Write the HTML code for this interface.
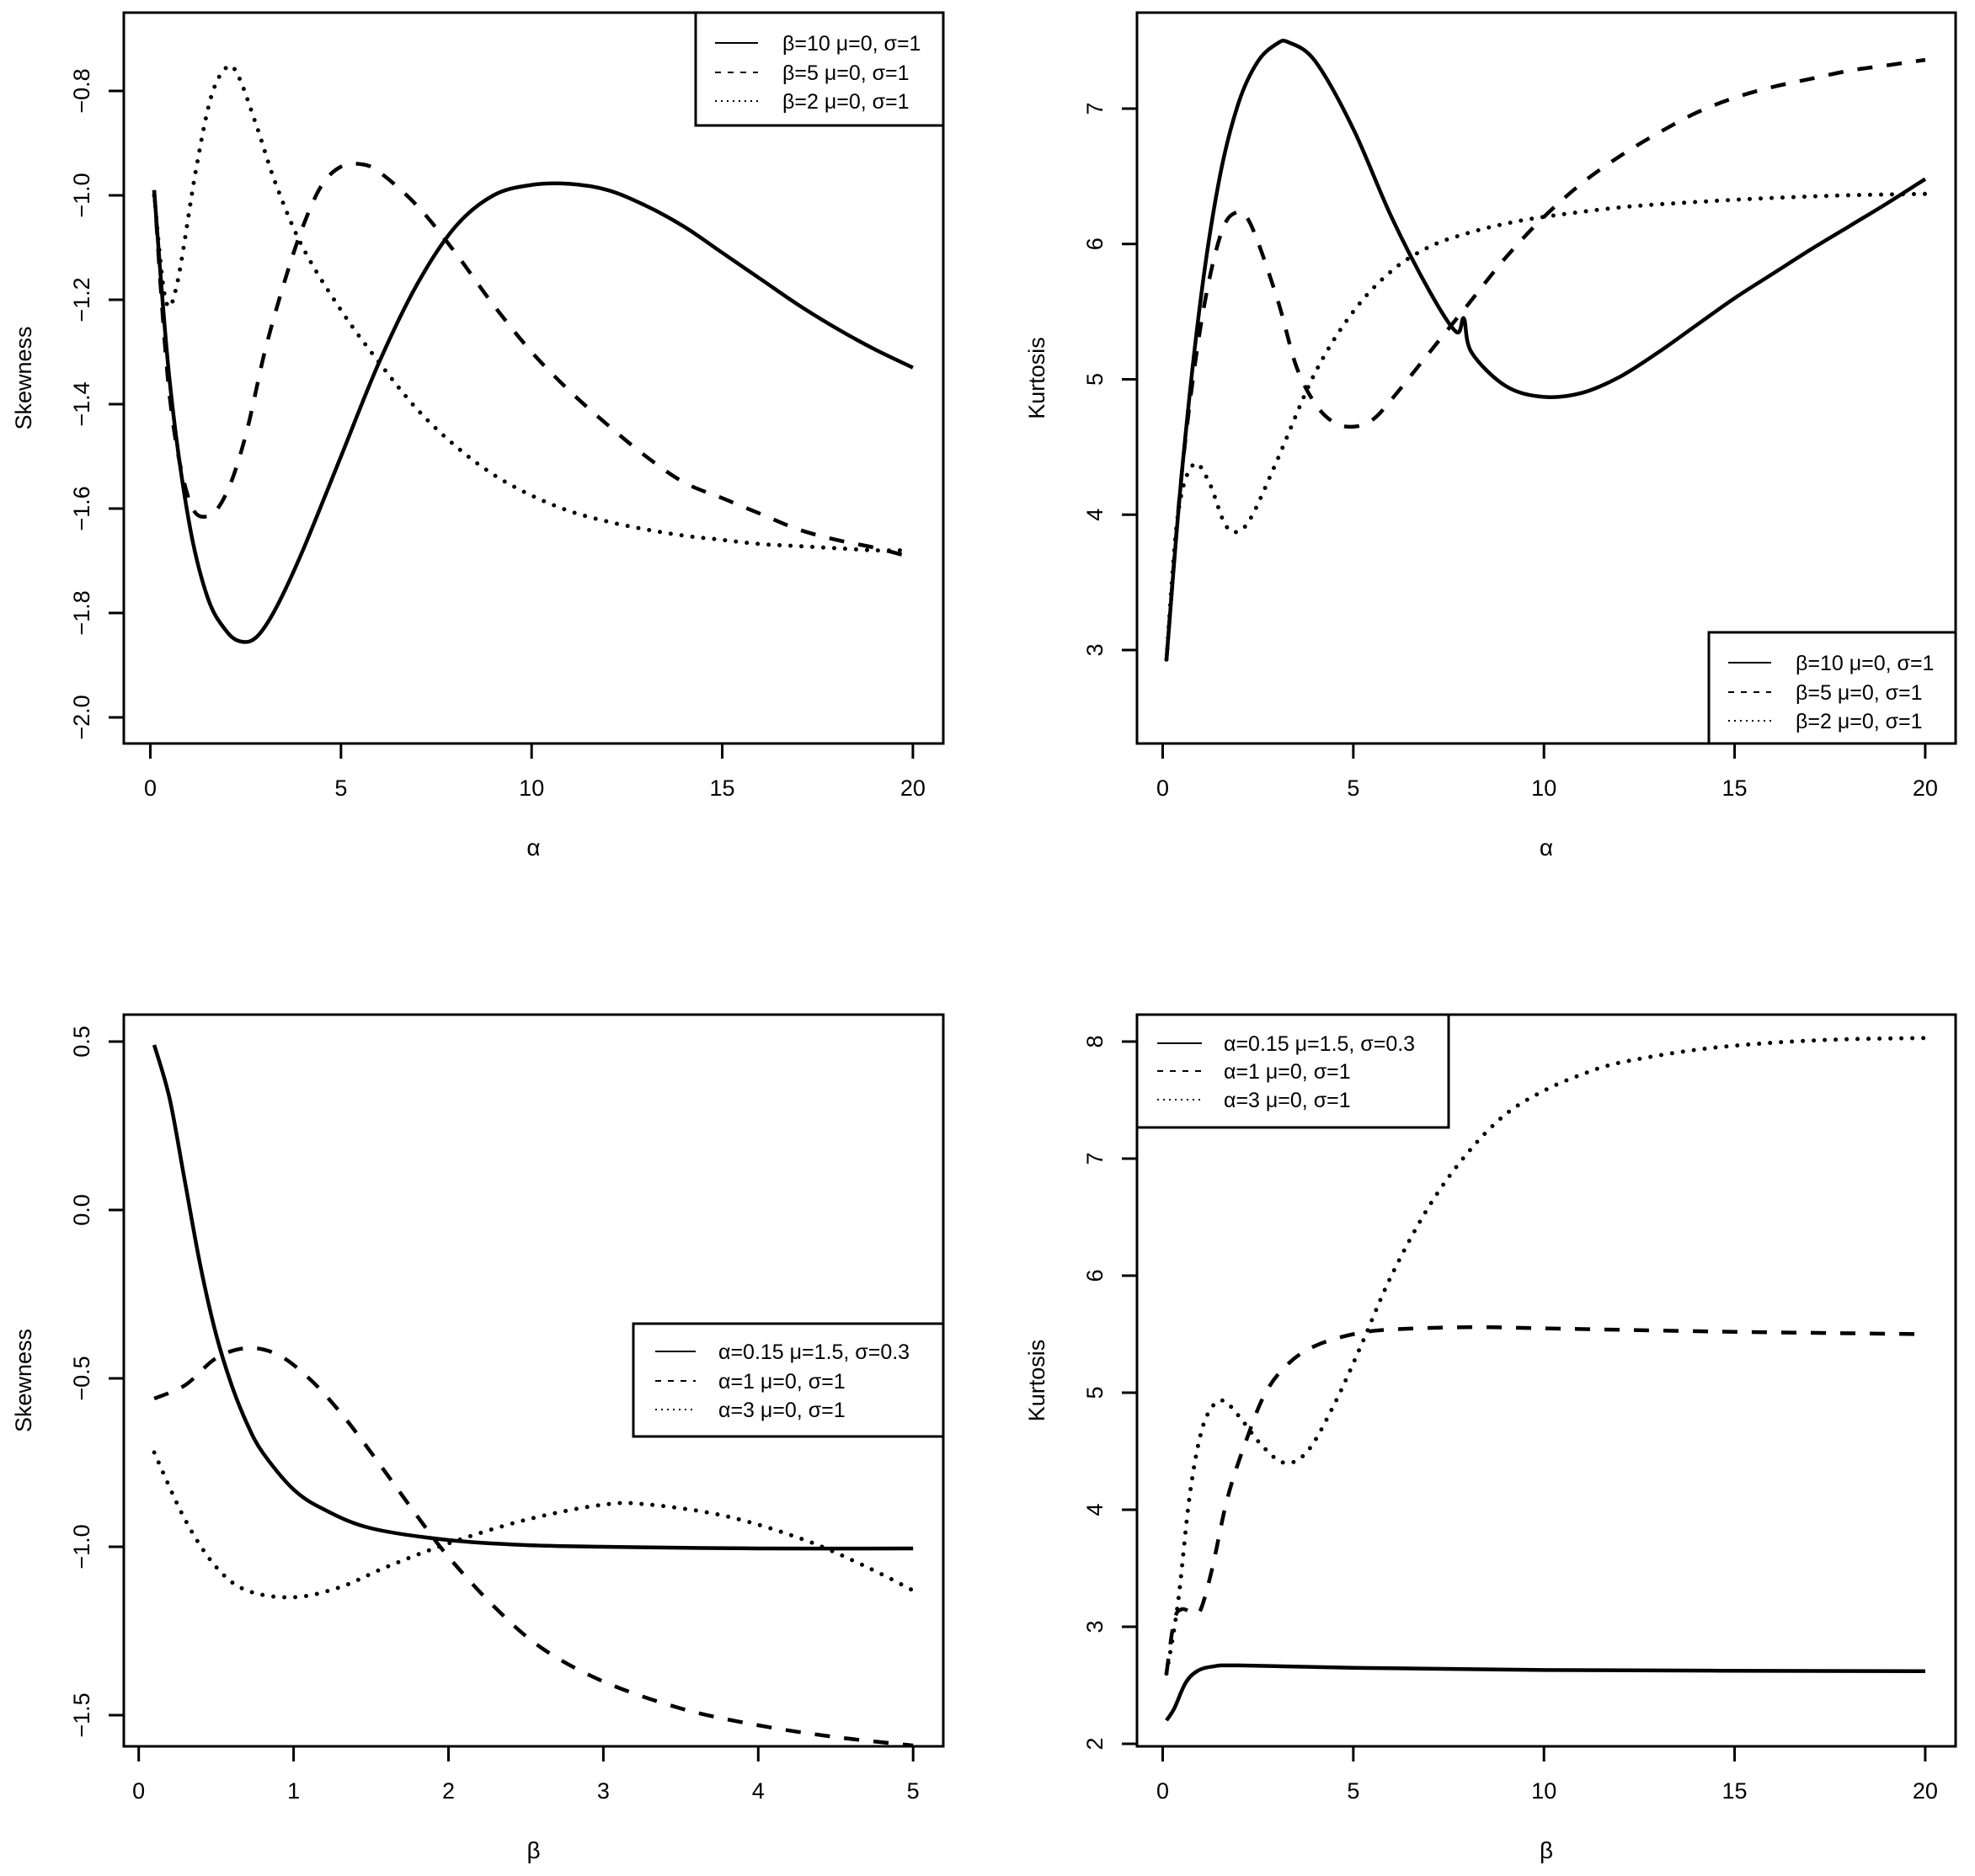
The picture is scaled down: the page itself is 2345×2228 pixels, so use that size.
<!DOCTYPE html>
<html><head><meta charset="utf-8"><style>
html,body{margin:0;padding:0;background:#fff}
svg{display:block}
text{font-family:"Liberation Sans",sans-serif;fill:#000}
</style></head><body>
<svg id="s" xmlns="http://www.w3.org/2000/svg" width="2345" height="2228" viewBox="0 0 2345 2228"></svg>
<script>
const S=document.getElementById('s');
let out='';
function panel(p){
  const {L,R,T,B,x0,xu,y0,yu,xt,yt,xlab,ylab,series,leg}=p;
  const X=v=>x0+v*xu, Y=v=>y0-v*yu;
  out+=`<rect x="${L}" y="${T}" width="${R-L}" height="${B-T}" fill="none" stroke="#000" stroke-width="3"/>`;
  out+=`<line x1="${X(xt[0])}" y1="${B}" x2="${X(xt[xt.length-1])}" y2="${B}" stroke="#000" stroke-width="3"/>`;
  xt.forEach(v=>{const x=X(v);out+=`<line x1="${x}" y1="${B}" x2="${x}" y2="${B+18}" stroke="#000" stroke-width="3"/><text x="${x}" y="${B+62}" font-size="27" text-anchor="middle">${v}</text>`;});
  out+=`<line x1="${L}" y1="${Y(yt[0][0])}" x2="${L}" y2="${Y(yt[yt.length-1][0])}" stroke="#000" stroke-width="3"/>`;
  yt.forEach(([v,l])=>{const y=Y(v);out+=`<line x1="${L-18}" y1="${y}" x2="${L}" y2="${y}" stroke="#000" stroke-width="3"/><text transform="translate(${L-41},${y}) rotate(-90)" font-size="27" text-anchor="middle">${l}</text>`;});
  out+=`<text x="${(L+R)/2}" y="${B+133}" font-size="28" text-anchor="middle">${xlab}</text>`;
  out+=`<text transform="translate(${L-110},${(T+B)/2}) rotate(-90)" font-size="27" text-anchor="middle">${ylab}</text>`;
  series.forEach((pts,i)=>{
    const P=pts.map(([a,b])=>[X(a),Y(b)]);
    let d='M'+P[0][0].toFixed(1)+','+P[0][1].toFixed(1);
    for(let k=0;k<P.length-1;k++){
      const p0=P[Math.max(k-1,0)],p1=P[k],p2=P[k+1],p3=P[Math.min(k+2,P.length-1)];
      const c1=[p1[0]+(p2[0]-p0[0])/6,p1[1]+(p2[1]-p0[1])/6];
      const c2=[p2[0]-(p3[0]-p1[0])/6,p2[1]-(p3[1]-p1[1])/6];
      d+=`C${c1[0].toFixed(1)},${c1[1].toFixed(1)} ${c2[0].toFixed(1)},${c2[1].toFixed(1)} ${p2[0].toFixed(1)},${p2[1].toFixed(1)}`;
    }
    const st=i==0?'':i==1?'stroke-dasharray="18,17"':'stroke-dasharray="0,13" stroke-linecap="round"';
    out+=`<path d="${d}" fill="none" stroke="#000" stroke-width="${i==2?5:4.5}" ${st}/>`;
  });
  const g=leg;
  out+=`<rect x="${g.L}" y="${g.T}" width="${g.R-g.L}" height="${g.B-g.T}" fill="#fff" stroke="#000" stroke-width="3"/>`;
  g.items.forEach((t,i)=>{const y=g.ys[i];
    const st=i==0?'':i==1?'stroke-dasharray="7,8"':'stroke-dasharray="2,5"';
    out+=`<line x1="${g.l1}" y1="${y}" x2="${g.l2}" y2="${y}" stroke="#000" stroke-width="2" ${st}/><text x="${g.tx}" y="${y+9}" font-size="25">${t}</text>`;});
}
const b10=['β=10 μ=0, σ=1','β=5 μ=0, σ=1','β=2 μ=0, σ=1'];
const a3=['α=0.15 μ=1.5, σ=0.3','α=1 μ=0, σ=1','α=3 μ=0, σ=1'];
panel({L:147,R:1120,T:15,B:883,x0:178.5,xu:45.27,y0:108-0.8*620,yu:620,
 xt:[0,5,10,15,20],yt:[[-2,'−2.0'],[-1.8,'−1.8'],[-1.6,'−1.6'],[-1.4,'−1.4'],[-1.2,'−1.2'],[-1.0,'−1.0'],[-0.8,'−0.8']],
 xlab:'α',ylab:'Skewness',
 series:[
 [[0.1,-0.99],[0.5,-1.35],[1,-1.62],[1.5,-1.77],[2,-1.835],[2.4,-1.855],[2.8,-1.845],[3.3,-1.79],[4,-1.68],[5,-1.50],[6,-1.32],[7,-1.17],[8,-1.06],[9,-1.0],[10,-0.98],[11,-0.978],[12,-0.99],[13,-1.02],[14,-1.06],[15,-1.11],[16,-1.16],[17,-1.21],[18,-1.255],[19,-1.295],[20,-1.33]],
 [[0.1,-0.99],[0.5,-1.38],[1,-1.58],[1.5,-1.615],[2,-1.57],[2.5,-1.46],[3,-1.30],[3.5,-1.17],[4,-1.06],[4.5,-0.98],[5,-0.945],[5.5,-0.94],[6,-0.955],[7,-1.02],[8,-1.11],[9,-1.21],[10,-1.30],[11,-1.375],[12,-1.44],[13,-1.50],[14,-1.55],[15,-1.58],[16,-1.61],[17,-1.64],[18,-1.66],[19,-1.675],[19.8,-1.69]],
 [[0.1,-1.0],[0.4,-1.2],[0.7,-1.17],[1.2,-0.95],[1.6,-0.81],[2,-0.755],[2.3,-0.77],[2.8,-0.87],[3.3,-0.98],[4,-1.10],[5,-1.22],[6,-1.32],[7,-1.41],[8,-1.48],[9,-1.535],[10,-1.575],[11,-1.605],[12,-1.625],[13,-1.64],[14,-1.652],[15,-1.66],[16,-1.668],[17,-1.672],[18,-1.676],[19,-1.68],[19.8,-1.68]]],
 leg:{L:826,R:1120,T:15,B:149,l1:849,l2:900,tx:929,ys:[51,86,120],items:b10}});
panel({L:1350,R:2322,T:15,B:883,x0:1380.5,xu:45.27,y0:772+3*160.75,yu:160.75,
 xt:[0,5,10,15,20],yt:[[3,'3'],[4,'4'],[5,'5'],[6,'6'],[7,'7']],
 xlab:'α',ylab:'Kurtosis',
 series:[
 [[0.1,2.93],[0.5,4.3],[1,5.6],[1.5,6.5],[2,7.05],[2.5,7.35],[3,7.48],[3.3,7.49],[4,7.35],[5,6.85],[6,6.2],[7,5.65],[7.7,5.35],[7.9,5.45],[8.1,5.2],[9,4.95],[10,4.87],[11,4.9],[12,5.02],[13,5.2],[14,5.4],[15,5.6],[16,5.78],[17,5.96],[18,6.13],[19,6.3],[20,6.48]],
 [[0.1,2.93],[0.5,4.3],[1,5.4],[1.5,6.05],[1.9,6.23],[2.3,6.15],[3,5.6],[3.5,5.1],[4,4.82],[4.5,4.68],[5,4.65],[5.5,4.7],[6,4.85],[7,5.2],[8,5.55],[9,5.9],[10,6.2],[11,6.45],[12,6.65],[13,6.82],[14,6.97],[15,7.08],[16,7.16],[17,7.22],[18,7.28],[19,7.32],[20,7.36]],
 [[0.1,2.93],[0.4,4.0],[0.8,4.37],[1.2,4.25],[1.6,3.95],[1.9,3.87],[2.3,3.97],[3,4.4],[4,5.05],[5,5.5],[6,5.8],[7,5.98],[8,6.08],[9,6.15],[10,6.2],[12,6.27],[14,6.31],[16,6.34],[18,6.36],[20,6.37]]],
 leg:{L:2029,R:2322,T:751,B:883,l1:2052,l2:2103,tx:2132,ys:[787,822,856],items:b10}});
panel({L:147,R:1120,T:1205,B:2074,x0:164.7,xu:183.9,y0:1437,yu:400,
 xt:[0,1,2,3,4,5],yt:[[-1.5,'−1.5'],[-1.0,'−1.0'],[-0.5,'−0.5'],[0,'0.0'],[0.5,'0.5']],
 xlab:'β',ylab:'Skewness',
 series:[
 [[0.1,0.49],[0.2,0.33],[0.3,0.08],[0.4,-0.17],[0.5,-0.37],[0.6,-0.52],[0.7,-0.635],[0.8,-0.72],[1.0,-0.83],[1.2,-0.89],[1.5,-0.945],[2,-0.98],[2.5,-0.995],[3,-1.0],[4,-1.005],[5,-1.005]],
 [[0.1,-0.56],[0.3,-0.52],[0.5,-0.44],[0.7,-0.41],[0.9,-0.43],[1.1,-0.5],[1.3,-0.6],[1.5,-0.72],[1.8,-0.91],[2,-1.03],[2.3,-1.18],[2.6,-1.3],[3,-1.4],[3.5,-1.48],[4,-1.53],[4.5,-1.565],[5,-1.59]],
 [[0.1,-0.72],[0.3,-0.92],[0.5,-1.06],[0.7,-1.13],[1.0,-1.15],[1.3,-1.12],[1.6,-1.06],[2,-0.99],[2.5,-0.92],[3,-0.875],[3.3,-0.875],[3.8,-0.91],[4.3,-0.98],[4.7,-1.06],[5,-1.13]]],
 leg:{L:752,R:1120,T:1572,B:1706,l1:778,l2:826,tx:853,ys:[1605,1640,1674],items:a3}});
panel({L:1350,R:2322,T:1205,B:2074,x0:1380.5,xu:45.27,y0:2071+2*139,yu:139,
 xt:[0,5,10,15,20],yt:[[2,'2'],[3,'3'],[4,'4'],[5,'5'],[6,'6'],[7,'7'],[8,'8']],
 xlab:'β',ylab:'Kurtosis',
 series:[
 [[0.1,2.2],[0.3,2.3],[0.6,2.52],[0.9,2.62],[1.3,2.66],[2,2.67],[5,2.65],[10,2.63],[20,2.62]],
 [[0.1,2.6],[0.3,3.05],[0.5,3.15],[0.8,3.12],[1,3.15],[1.3,3.5],[1.7,4.1],[2.2,4.6],[2.7,5.0],[3.3,5.25],[4,5.4],[5,5.5],[6,5.54],[8,5.56],[10,5.55],[15,5.52],[20,5.5]],
 [[0.1,2.6],[0.4,3.2],[0.7,4.1],[1.0,4.65],[1.3,4.88],[1.6,4.93],[2,4.8],[2.6,4.55],[3.2,4.4],[3.8,4.5],[4.5,4.9],[5.2,5.4],[6,6.0],[7,6.6],[8,7.05],[9,7.38],[10,7.58],[11,7.72],[12,7.82],[14,7.93],[16,7.99],[18,8.02],[20,8.03]]],
 leg:{L:1350,R:1720,T:1205,B:1339,l1:1374,l2:1427,tx:1453,ys:[1239,1272,1306],items:a3}});
S.innerHTML=out;
</script>
</body></html>
